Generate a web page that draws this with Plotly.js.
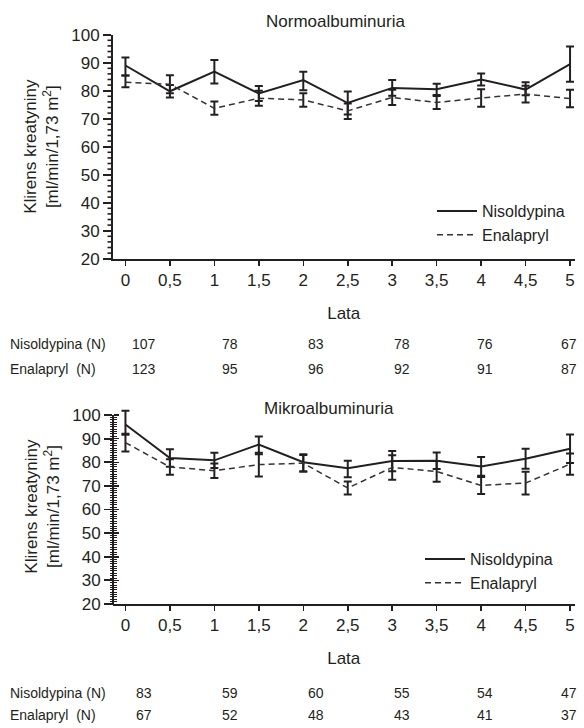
<!DOCTYPE html>
<html><head><meta charset="utf-8">
<script src="https://cdn.plot.ly/plotly-3.0.1.min.js"></script>
<style>html,body{margin:0;padding:0;background:#fff}#chart{width:584px;height:728px}</style>
</head><body><div id="chart"></div>
<script>
// ---- data ----
const years = [0, 0.5, 1, 1.5, 2, 2.5, 3, 3.5, 4, 4.5, 5];
const xTickText = ['0', '0,5', '1', '1,5', '2', '2,5', '3', '3,5', '4', '4,5', '5'];

// Normoalbuminuria
const normoNis      = [89.0, 79.8, 86.8, 79.0, 83.8, 75.6, 81.0, 80.5, 84.0, 80.4, 89.5];
const normoNisPlus  = [2.9, 2.2, 4.2, 2.7, 3.0, 4.1, 2.8, 2.0, 2.1, 2.6, 6.3];
const normoNisMinus = [3.6, 2.2, 4.2, 2.7, 3.6, 4.1, 2.8, 2.0, 2.1, 2.0, 6.3];
const normoEna      = [83.0, 82.3, 73.7, 77.3, 76.7, 72.8, 77.6, 75.8, 77.4, 78.8, 77.2];
const normoEnaPlus  = [2.4, 3.2, 2.4, 2.7, 2.4, 2.6, 2.7, 2.3, 3.1, 3.0, 3.1];
const normoEnaMinus = [1.8, 3.2, 2.3, 2.7, 2.4, 2.9, 2.7, 2.3, 3.1, 3.0, 3.1];

// Mikroalbuminuria
const mikroNis      = [96.0, 81.8, 80.8, 87.5, 80.0, 77.5, 80.5, 80.6, 78.2, 81.5, 85.7];
const mikroNisPlus  = [5.8, 3.7, 3.2, 3.4, 3.4, 3.1, 4.3, 3.5, 4.0, 4.2, 6.0];
const mikroNisMinus = [4.4, 3.7, 3.2, 4.1, 3.9, 3.8, 4.3, 3.5, 3.9, 4.2, 6.0];
const mikroEna      = [88.3, 78.0, 76.4, 79.0, 79.6, 69.1, 77.8, 76.1, 70.2, 71.2, 79.2];
const mikroEnaPlus  = [3.8, 3.3, 3.1, 5.0, 3.5, 2.7, 5.2, 4.4, 3.6, 4.8, 4.5];
const mikroEnaMinus = [3.8, 3.3, 3.1, 5.0, 3.5, 2.7, 5.2, 4.4, 3.6, 4.8, 4.5];

// Patient numbers (N)
const nLabels   = ['Nisoldypina (N)', 'Enalapryl  (N)'];
const normoNisN = [107, 78, 83, 78, 76, 67];
const normoEnaN = [123, 95, 96, 92, 91, 87];
const mikroNisN = [83, 59, 60, 55, 54, 47];
const mikroEnaN = [67, 52, 48, 43, 41, 37];

// ---- layout helpers (pixel positions) ----
const W = 584, H = 728;
const px = v => v / W;
const py = v => 1 - v / H;
const INK = '#231f20';
const FONT = 'Liberation Sans Narrow, Liberation Sans, Arial, sans-serif';

function errBar(plus, minus) {
  return {type: 'data', symmetric: false, array: plus, arrayminus: minus,
          color: INK, thickness: 2, width: 4};
}
const solid = {color: INK, width: 2};
const dashed = {color: '#333', width: 1.5, dash: '6px,4px'};

const traces = [
  {x: years, y: normoNis, xaxis: 'x', yaxis: 'y', mode: 'lines', name: 'Nisoldypina',
   line: solid, error_y: errBar(normoNisPlus, normoNisMinus), legend: 'legend'},
  {x: years, y: normoEna, xaxis: 'x', yaxis: 'y', mode: 'lines', name: 'Enalapryl',
   line: dashed, error_y: errBar(normoEnaPlus, normoEnaMinus), legend: 'legend'},
  {x: years, y: mikroNis, xaxis: 'x2', yaxis: 'y2', mode: 'lines', name: 'Nisoldypina',
   line: solid, error_y: errBar(mikroNisPlus, mikroNisMinus), legend: 'legend2'},
  {x: years, y: mikroEna, xaxis: 'x2', yaxis: 'y2', mode: 'lines', name: 'Enalapryl',
   line: dashed, error_y: errBar(mikroEnaPlus, mikroEnaMinus), legend: 'legend2'}
];

// invisible helper traces so the overlaid tick-only axes get drawn
[['x2', 'y4', mikroNis], ['x2', 'y5', mikroNis], ['x2', 'y6', mikroNis]]
  .forEach(([xa, ya, ys]) => traces.push({
    x: years, y: ys, xaxis: xa, yaxis: ya, mode: 'lines', opacity: 0,
    line: {width: 0}, showlegend: false, hoverinfo: 'skip'
  }));

const AXIS_X = 113;
const xDomain = [px(AXIS_X), px(574.5)];
const xRange = [-0.14, 5.05];

function xAxis(anchor) {
  return {
    domain: xDomain, range: xRange, anchor: anchor,
    tickmode: 'array', tickvals: years, ticktext: xTickText,
    ticks: 'outside', ticklen: 5, tickwidth: 1.5, tickcolor: INK,
    showline: true, linewidth: 2, linecolor: INK,
    showgrid: false, zeroline: false,
    tickfont: {family: FONT, size: 17, color: INK},
    title: {text: 'Lata', font: {family: FONT, size: 17, color: INK}, standoff: 18}
  };
}
const yTitle = 'Klirens kreatyniny<br>[ml/min/1,73 m<sup>2</sup>]';

// y scale: 20..100 drawn between given pixel rows; top may be extended for tall error bars
function yDomain(pxAt20, pxAt100, rangeTop) {
  const perUnit = (pxAt20 - pxAt100) / 80;
  const topPx = pxAt100 - (rangeTop - 100) * perUnit;
  return [py(pxAt20), py(topPx)];
}
function mainY(anchor, dom, rangeTop, showline) {
  return {
    domain: dom, range: [20, rangeTop], anchor: anchor,
    tickmode: 'linear', tick0: 0, dtick: 10,
    ticks: 'outside', ticklen: 8, tickwidth: 1.8, tickcolor: INK,
    showline: showline, linewidth: 2, linecolor: INK,
    showgrid: false, zeroline: false,
    tickfont: {family: FONT, size: 17, color: INK},
    title: {text: yTitle, font: {family: FONT, size: 17, color: INK}, standoff: 8}
  };
}
// tick-only overlay axis, pinned to the left edge of the plot
function tickY(dom, rangeTop, over, step, side, len, width) {
  const vals = [];
  for (let v = 20; v <= 100; v += step) vals.push(v);
  return {
    domain: dom, range: [20, rangeTop], anchor: 'free', position: px(AXIS_X), side: 'left',
    overlaying: over,
    tickmode: 'array', tickvals: vals, showticklabels: false,
    ticks: side, ticklen: len, tickwidth: width, tickcolor: INK,
    showline: false, showgrid: false, zeroline: false
  };
}

const topDom = yDomain(258.7, 34.7, 100);
const botTop = 102.5;
const botDom = yDomain(604, 415, botTop);

// fraction of an axis' own domain for a value (used with 'y domain' refs, which are not clipped)
const domFrac = (v, lo, hi) => (v - lo) / (hi - lo);

const shapes = [
  // lower y axis line, only from 20 to 100
  {type: 'line', xref: 'paper', yref: 'y2 domain', x0: px(AXIS_X), x1: px(AXIS_X),
   y0: domFrac(20, 20, botTop), y1: domFrac(100, 20, botTop), line: {color: INK, width: 2}}
];
// minor ticks of the upper y axis (every 2 units, outside)
for (let v = 22; v < 100; v += 2) {
  if (v % 10 === 0) continue;
  const f = domFrac(v, 20, 100);
  shapes.push({type: 'line', xref: 'paper', yref: 'y domain', x0: px(AXIS_X - 5.5), x1: px(AXIS_X),
               y0: f, y1: f, line: {color: INK, width: 1.6}});
}

const layout = {
  width: W, height: H,
  margin: {l: 0, r: 0, t: 0, b: 0},
  paper_bgcolor: '#fff', plot_bgcolor: 'rgba(0,0,0,0)',
  font: {family: FONT, color: INK, size: 16},
  showlegend: true,
  xaxis: xAxis('y'),
  yaxis: mainY('x', topDom, 100, true),
  xaxis2: xAxis('y2'),
  yaxis2: mainY('x2', botDom, botTop, false),
  yaxis4: tickY(botDom, botTop, 'y2', 1, 'outside', 3, 1),
  yaxis5: tickY(botDom, botTop, 'y2', 1, 'inside', 3, 1),
  yaxis6: tickY(botDom, botTop, 'y2', 10, 'inside', 5, 1.5),
  shapes: shapes,
  legend: {x: px(432), y: py(194), xanchor: 'left', yanchor: 'top', bgcolor: 'rgba(0,0,0,0)',
           font: {family: FONT, size: 16, color: INK}, itemwidth: 40, tracegroupgap: 0},
  legend2: {x: px(420), y: py(542), xanchor: 'left', yanchor: 'top', bgcolor: 'rgba(0,0,0,0)',
            font: {family: FONT, size: 16, color: INK}, itemwidth: 40, tracegroupgap: 0},
  annotations: []
};

layout.annotations.push(
  {text: 'Normoalbuminuria', x: px(335), y: py(21), xref: 'paper', yref: 'paper',
   showarrow: false, xanchor: 'center', yanchor: 'middle', font: {family: FONT, size: 17, color: INK}},
  {text: 'Mikroalbuminuria', x: px(329), y: py(408), xref: 'paper', yref: 'paper',
   showarrow: false, xanchor: 'center', yanchor: 'middle', font: {family: FONT, size: 17, color: INK}}
);

const nColX = [144, 229.5, 316, 402, 485, 569];
const tables = [
  {rowsY: [344, 369], series: [normoNisN, normoEnaN]},
  {rowsY: [693, 715], series: [mikroNisN, mikroEnaN]}
];
tables.forEach(t => {
  t.series.forEach((vals, r) => {
    layout.annotations.push({text: nLabels[r], x: px(8), y: py(t.rowsY[r]), xref: 'paper', yref: 'paper',
      showarrow: false, xanchor: 'left', yanchor: 'middle', font: {family: FONT, size: 14, color: INK}});
    vals.forEach((v, i) => {
      layout.annotations.push({text: String(v), x: px(nColX[i]), y: py(t.rowsY[r]), xref: 'paper', yref: 'paper',
        showarrow: false, xanchor: 'center', yanchor: 'middle', font: {family: FONT, size: 14, color: INK}});
    });
  });
});

Plotly.newPlot('chart', traces, layout, {staticPlot: true, displayModeBar: false});
</script>
</body></html>
